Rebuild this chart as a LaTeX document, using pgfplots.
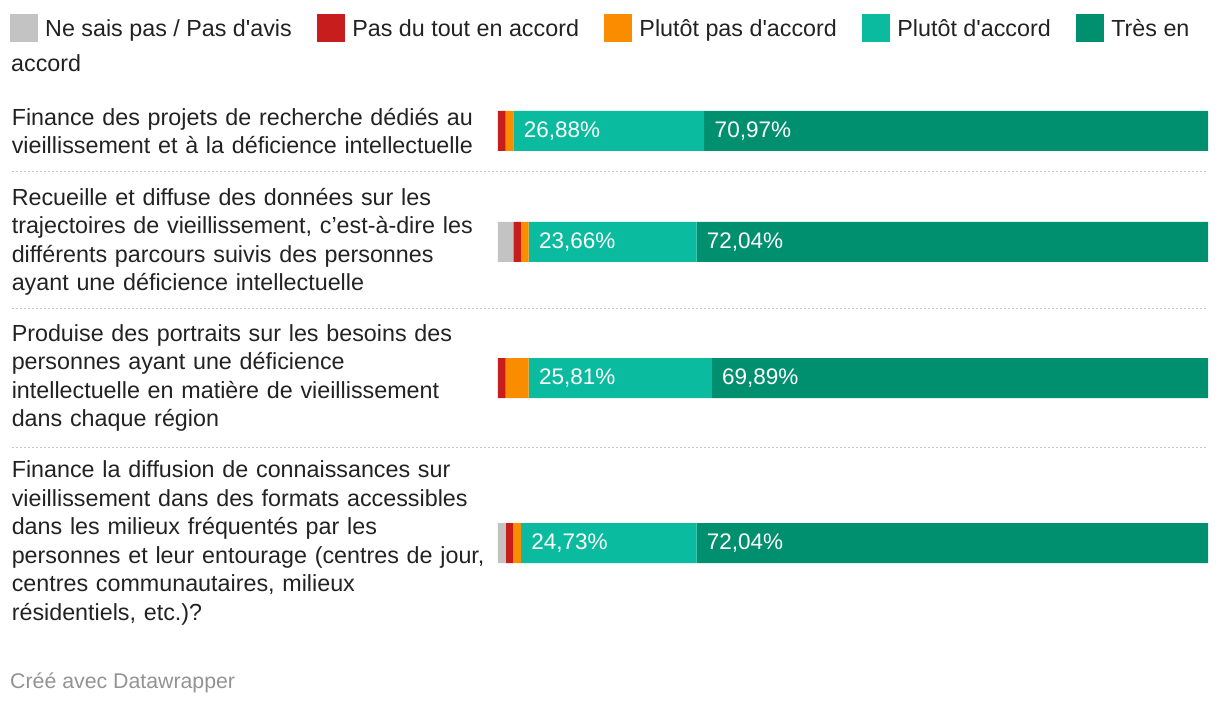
\documentclass[border=0pt]{standalone}
\usepackage{fontspec}
\setmainfont{Liberation Sans}[Ligatures=TeXOff]
\usepackage{pgfplots}
\pgfplotsset{compat=1.18}

\definecolor{cNSP}{HTML}{C3C3C3}
\definecolor{cPas}{HTML}{C71E1D}
\definecolor{cPlutotPas}{HTML}{FA8C00}
\definecolor{cPlutot}{HTML}{0ABB9F}
\definecolor{cTres}{HTML}{00906F}
\definecolor{txt}{HTML}{222222}

\pgfplotsset{
  swatch/.style={legend image code/.code={\fill[##1] (0pt,-14pt) rectangle (28pt,14pt);}},
}
\tikzset{val/.style={anchor=west, text=white, inner sep=0pt, font=\fontsize{22.5}{26}\selectfont}}

\begin{document}
\begin{tikzpicture}
\begin{axis}[
    xbar stacked,
    scale only axis,
    width=710pt, height=708pt,
    xmin=0, xmax=100,
    ymin=0, ymax=708,
    y dir=reverse,
    bar width=40pt,
    axis line style={draw=none},
    tick style={draw=none},
    major tick length=0pt,
    xtick=\empty,
    ytick={131,242,378,543},
    yticklabels={
      {Finance des projets de recherche dédiés au\\vieillissement et à la déficience intellectuelle},
      {Recueille et diffuse des données sur les\\trajectoires de vieillissement, c’est-à-dire les\\différents parcours suivis des personnes\\ayant une déficience intellectuelle},
      {Produise des portraits sur les besoins des\\personnes ayant une déficience\\intellectuelle en matière de vieillissement\\dans chaque région},
      {Finance la diffusion de connaissances sur\\vieillissement dans des formats accessibles\\dans les milieux fréquentés par les\\personnes et leur entourage (centres de jour,\\centres communautaires, milieux\\résidentiels, etc.)?}
    },
    yticklabel style={anchor=east, inner sep=0pt, text width=486pt, align=left,
      font=\fontsize{23.3}{28.5}\selectfont, text=txt},
    clip=false,
    legend columns=5,
    legend cell align=left,
    legend style={at={(axis cs:-68.73,14)}, anchor=north west, draw=none, fill=none,
      inner sep=0pt, column sep=7pt, row sep=10pt,
      font=\fontsize{23.3}{27}\selectfont, text=txt,
      nodes={inner sep=0pt, text height=19pt, text depth=3pt},
      /tikz/every even column/.append style={column sep=25.5pt}},
    after end axis/.code={
      \node[val] at (axis cs:3.62,131) {26,88\%};
      \node[val] at (axis cs:30.5,131) {70,97\%};
      \node[val] at (axis cs:5.75,242) {23,66\%};
      \node[val] at (axis cs:29.4,242) {72,04\%};
      \node[val] at (axis cs:5.75,378) {25,81\%};
      \node[val] at (axis cs:31.55,378) {69,89\%};
      \node[val] at (axis cs:4.68,543) {24,73\%};
      \node[val] at (axis cs:29.4,543) {72,04\%};
    },
  ]
  % order: Ne sais pas, Pas du tout, Plutot pas, Plutot, Tres
  \addplot[fill=cNSP, draw=none, swatch] coordinates {(0,131) (2.15,242) (0,378) (1.08,543)};
  \addplot[fill=cPas, draw=none, swatch] coordinates {(1.08,131) (1.08,242) (1.08,378) (1.08,543)};
  \addplot[fill=cPlutotPas, draw=none, swatch] coordinates {(1.08,131) (1.08,242) (3.23,378) (1.08,543)};
  \addplot[fill=cPlutot, draw=none, swatch] coordinates {(26.88,131) (23.66,242) (25.81,378) (24.73,543)};
  \addplot[fill=cTres, draw=none, swatch] coordinates {(70.97,131) (72.04,242) (69.89,378) (72.04,543)};
  \addlegendentry{Ne sais pas / Pas d'avis}
  \addlegendentry{Pas du tout en accord}
  \addlegendentry{Plutôt pas d'accord}
  \addlegendentry{Plutôt d'accord}
  \addlegendentry{Très en}
  \addlegendimage{empty legend}
  \addlegendentry{\hspace*{-34pt}accord}

  % separators
  \draw[gray!45, line width=1pt, dash pattern=on 2pt off 2pt] (axis cs:-68.45,172) -- (axis cs:100,172);
  \draw[gray!45, line width=1pt, dash pattern=on 2pt off 2pt] (axis cs:-68.45,309) -- (axis cs:100,309);
  \draw[gray!45, line width=1pt, dash pattern=on 2pt off 2pt] (axis cs:-68.45,447) -- (axis cs:100,447);

  \node[anchor=west, inner sep=0pt, text=gray!85, font=\fontsize{21.3}{25}\selectfont]
    at (axis cs:-68.73,683) {Créé avec Datawrapper};
\end{axis}
\pgfresetboundingbox
\path (-498pt,0pt) rectangle (722pt,708pt);
\end{tikzpicture}
\end{document}
